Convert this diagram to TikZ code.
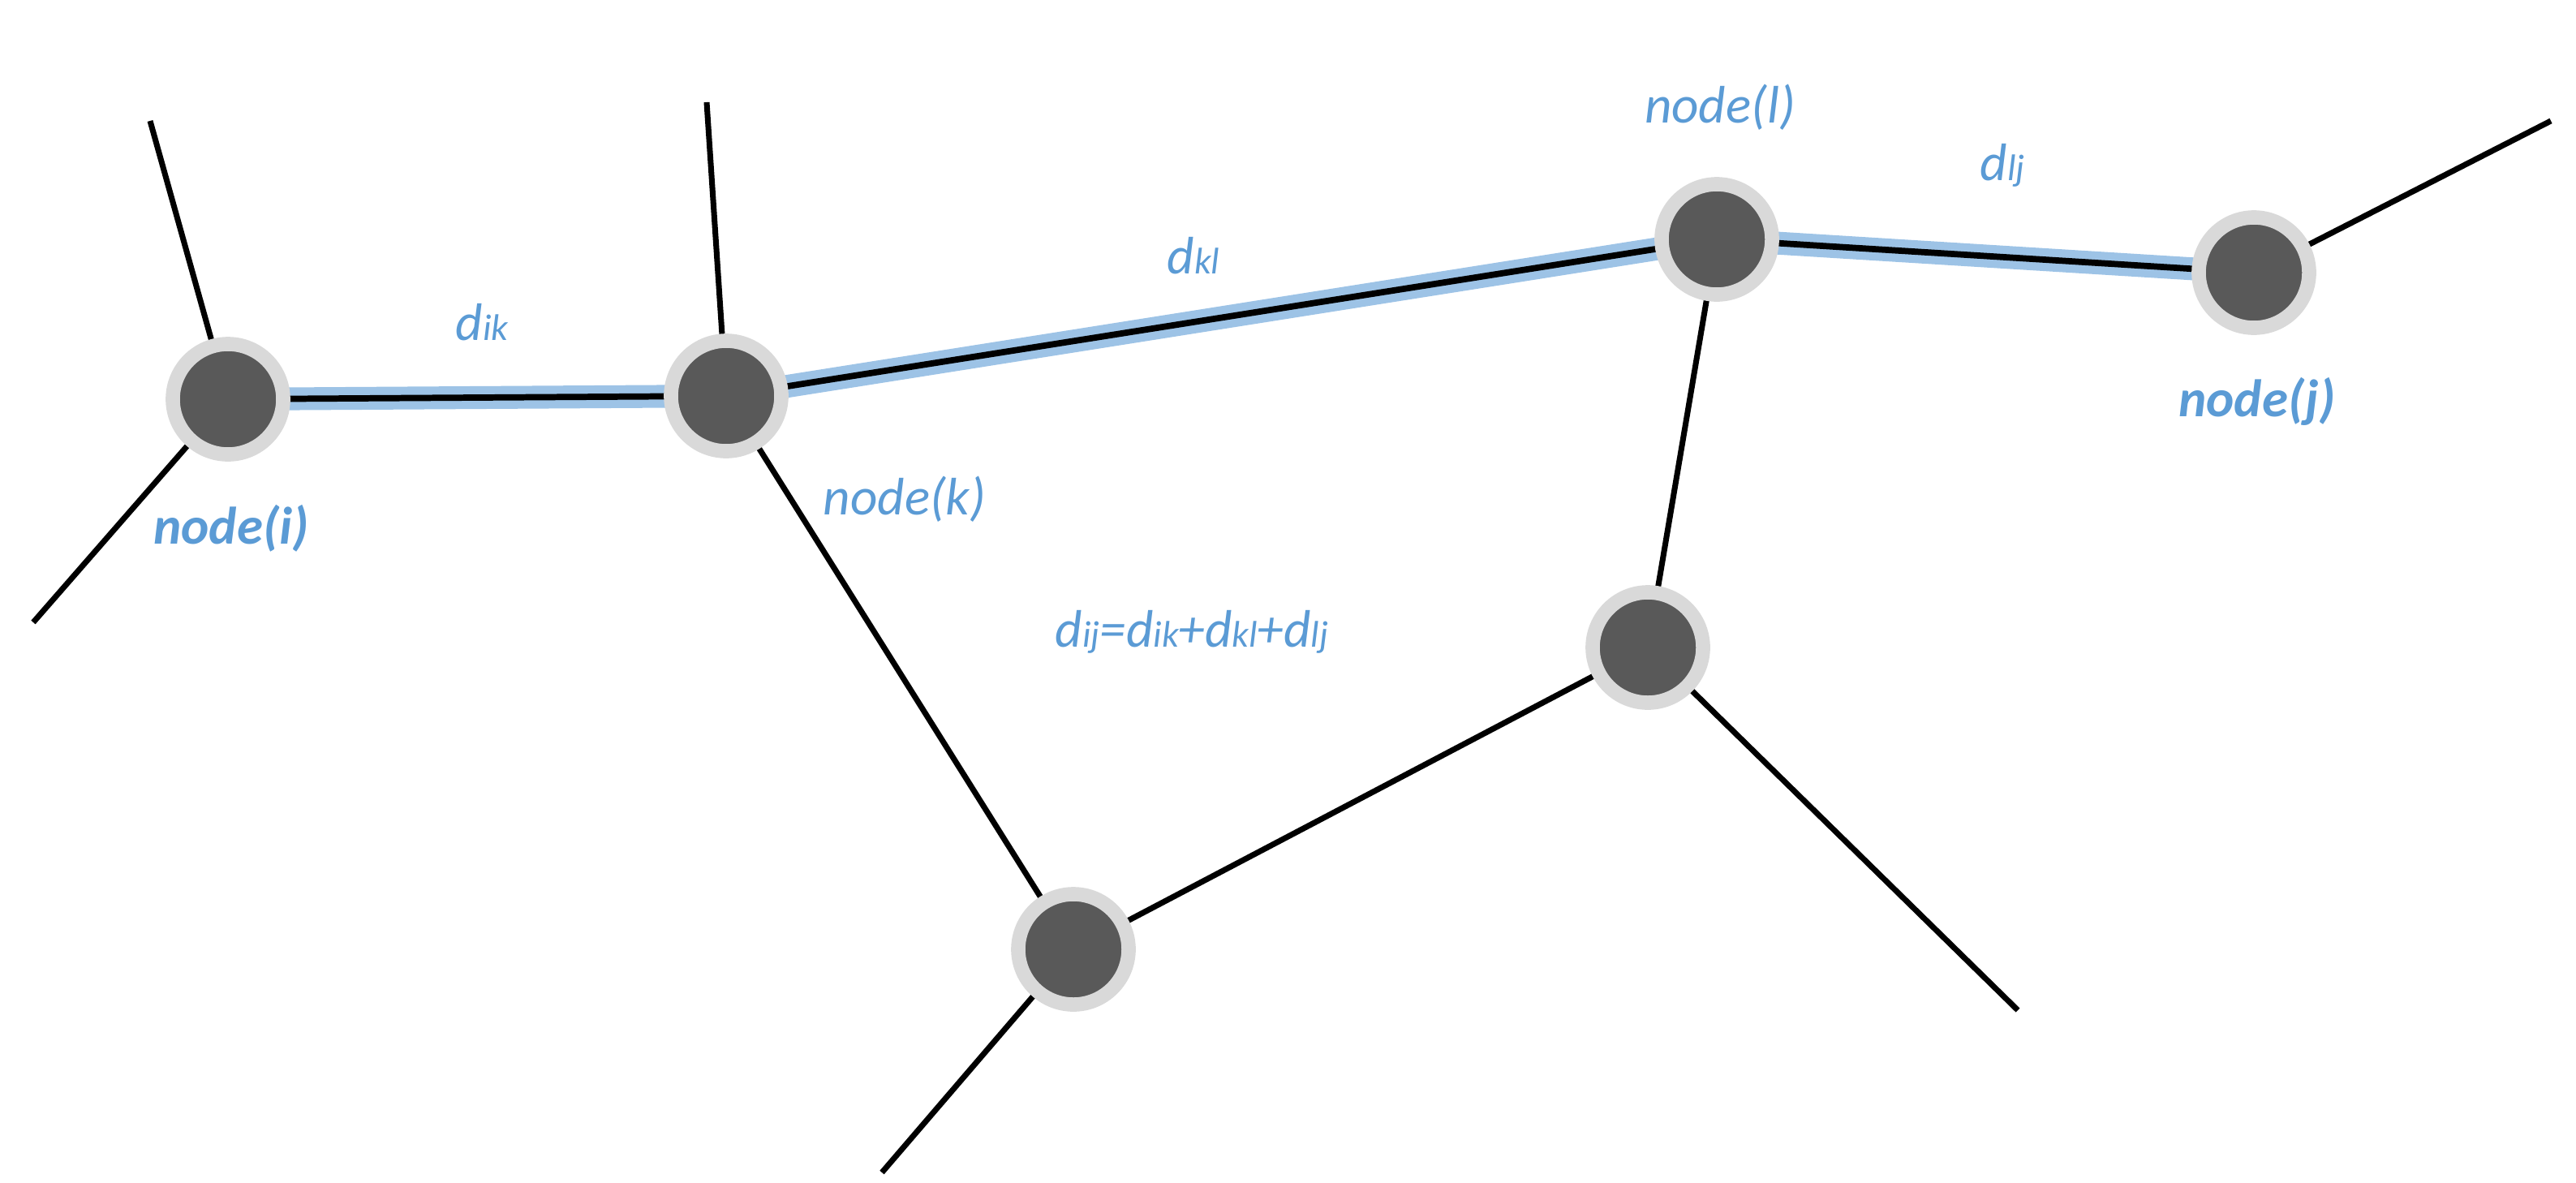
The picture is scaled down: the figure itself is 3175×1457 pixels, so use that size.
\documentclass[tikz,border=0pt]{standalone}
\usepackage{fontspec}
\setmainfont{Carlito}
\begin{document}
\begin{tikzpicture}[x=0.01cm,y=-0.01cm,
  vert/.style={circle,fill=black!65,draw=black!15,line width=5pt,minimum size=1.36cm,inner sep=0pt},
  edge/.style={line width=2pt,black},
  hl/.style={line width=8pt,color=hlblue},
  hb/.style={line width=2.2pt,black},
  lab/.style={text=lblue,font=\fontsize{18.5}{20}\selectfont\itshape,inner sep=0pt}]
\definecolor{hlblue}{HTML}{9DC3E6}
\definecolor{lblue}{HTML}{5B9BD5}
\newcommand{\smsub}[1]{{\fontsize{13}{14}\selectfont #1}}
\useasboundingbox (0,0) rectangle (3175,1457);
\coordinate (i) at (281,492);
\coordinate (k) at (895,488);
\coordinate (l) at (2116,295);
\coordinate (j) at (2778,336);
\coordinate (m) at (2031,798);
\coordinate (n) at (1323,1170);
\coordinate (ia) at (185,149);
\coordinate (ib) at (41,767);
\coordinate (ka) at (871,126);
\coordinate (ja) at (3144,149);
\coordinate (ma) at (2487,1245);
\coordinate (na) at (1087,1445);
% plain edges
\draw[edge] (i)--(ia) (i)--(ib) (k)--(ka) (j)--(ja) (m)--(ma) (n)--(na)
  (k)--(n) (n)--(m) (m)--(l);
% highlighted path
\draw[hl] (i)--(k)--(l)--(j);
\draw[hb] (i)--(k)--(l)--(j);
\foreach \p in {i,k,l,j,m,n} \node[vert] (v\p) at (\p) {};
% labels
\node[lab] (tik) at (594,397) {d\smsub{ik}};
\node[lab] (tkl) at (1471,315) {d\smsub{kl}};
\node[lab] (tlj) at (2468,204) {d\smsub{lj}};
\node[lab] (tl) at (2120,132) {node(l)};
\node[lab,font=\fontsize{18.5}{20}\selectfont\bfseries\itshape] (tj) at (2782,495) {node(j)};
\node[lab,font=\fontsize{18.5}{20}\selectfont\bfseries\itshape] (ti) at (285,651) {node(i)};
\node[lab] (tk) at (1115,615) {node(k)};
\node[lab] (tf) at (1469,779) {d\smsub{ij}=d\smsub{ik}+d\smsub{kl}+d\smsub{lj}};
\end{tikzpicture}
\end{document}
